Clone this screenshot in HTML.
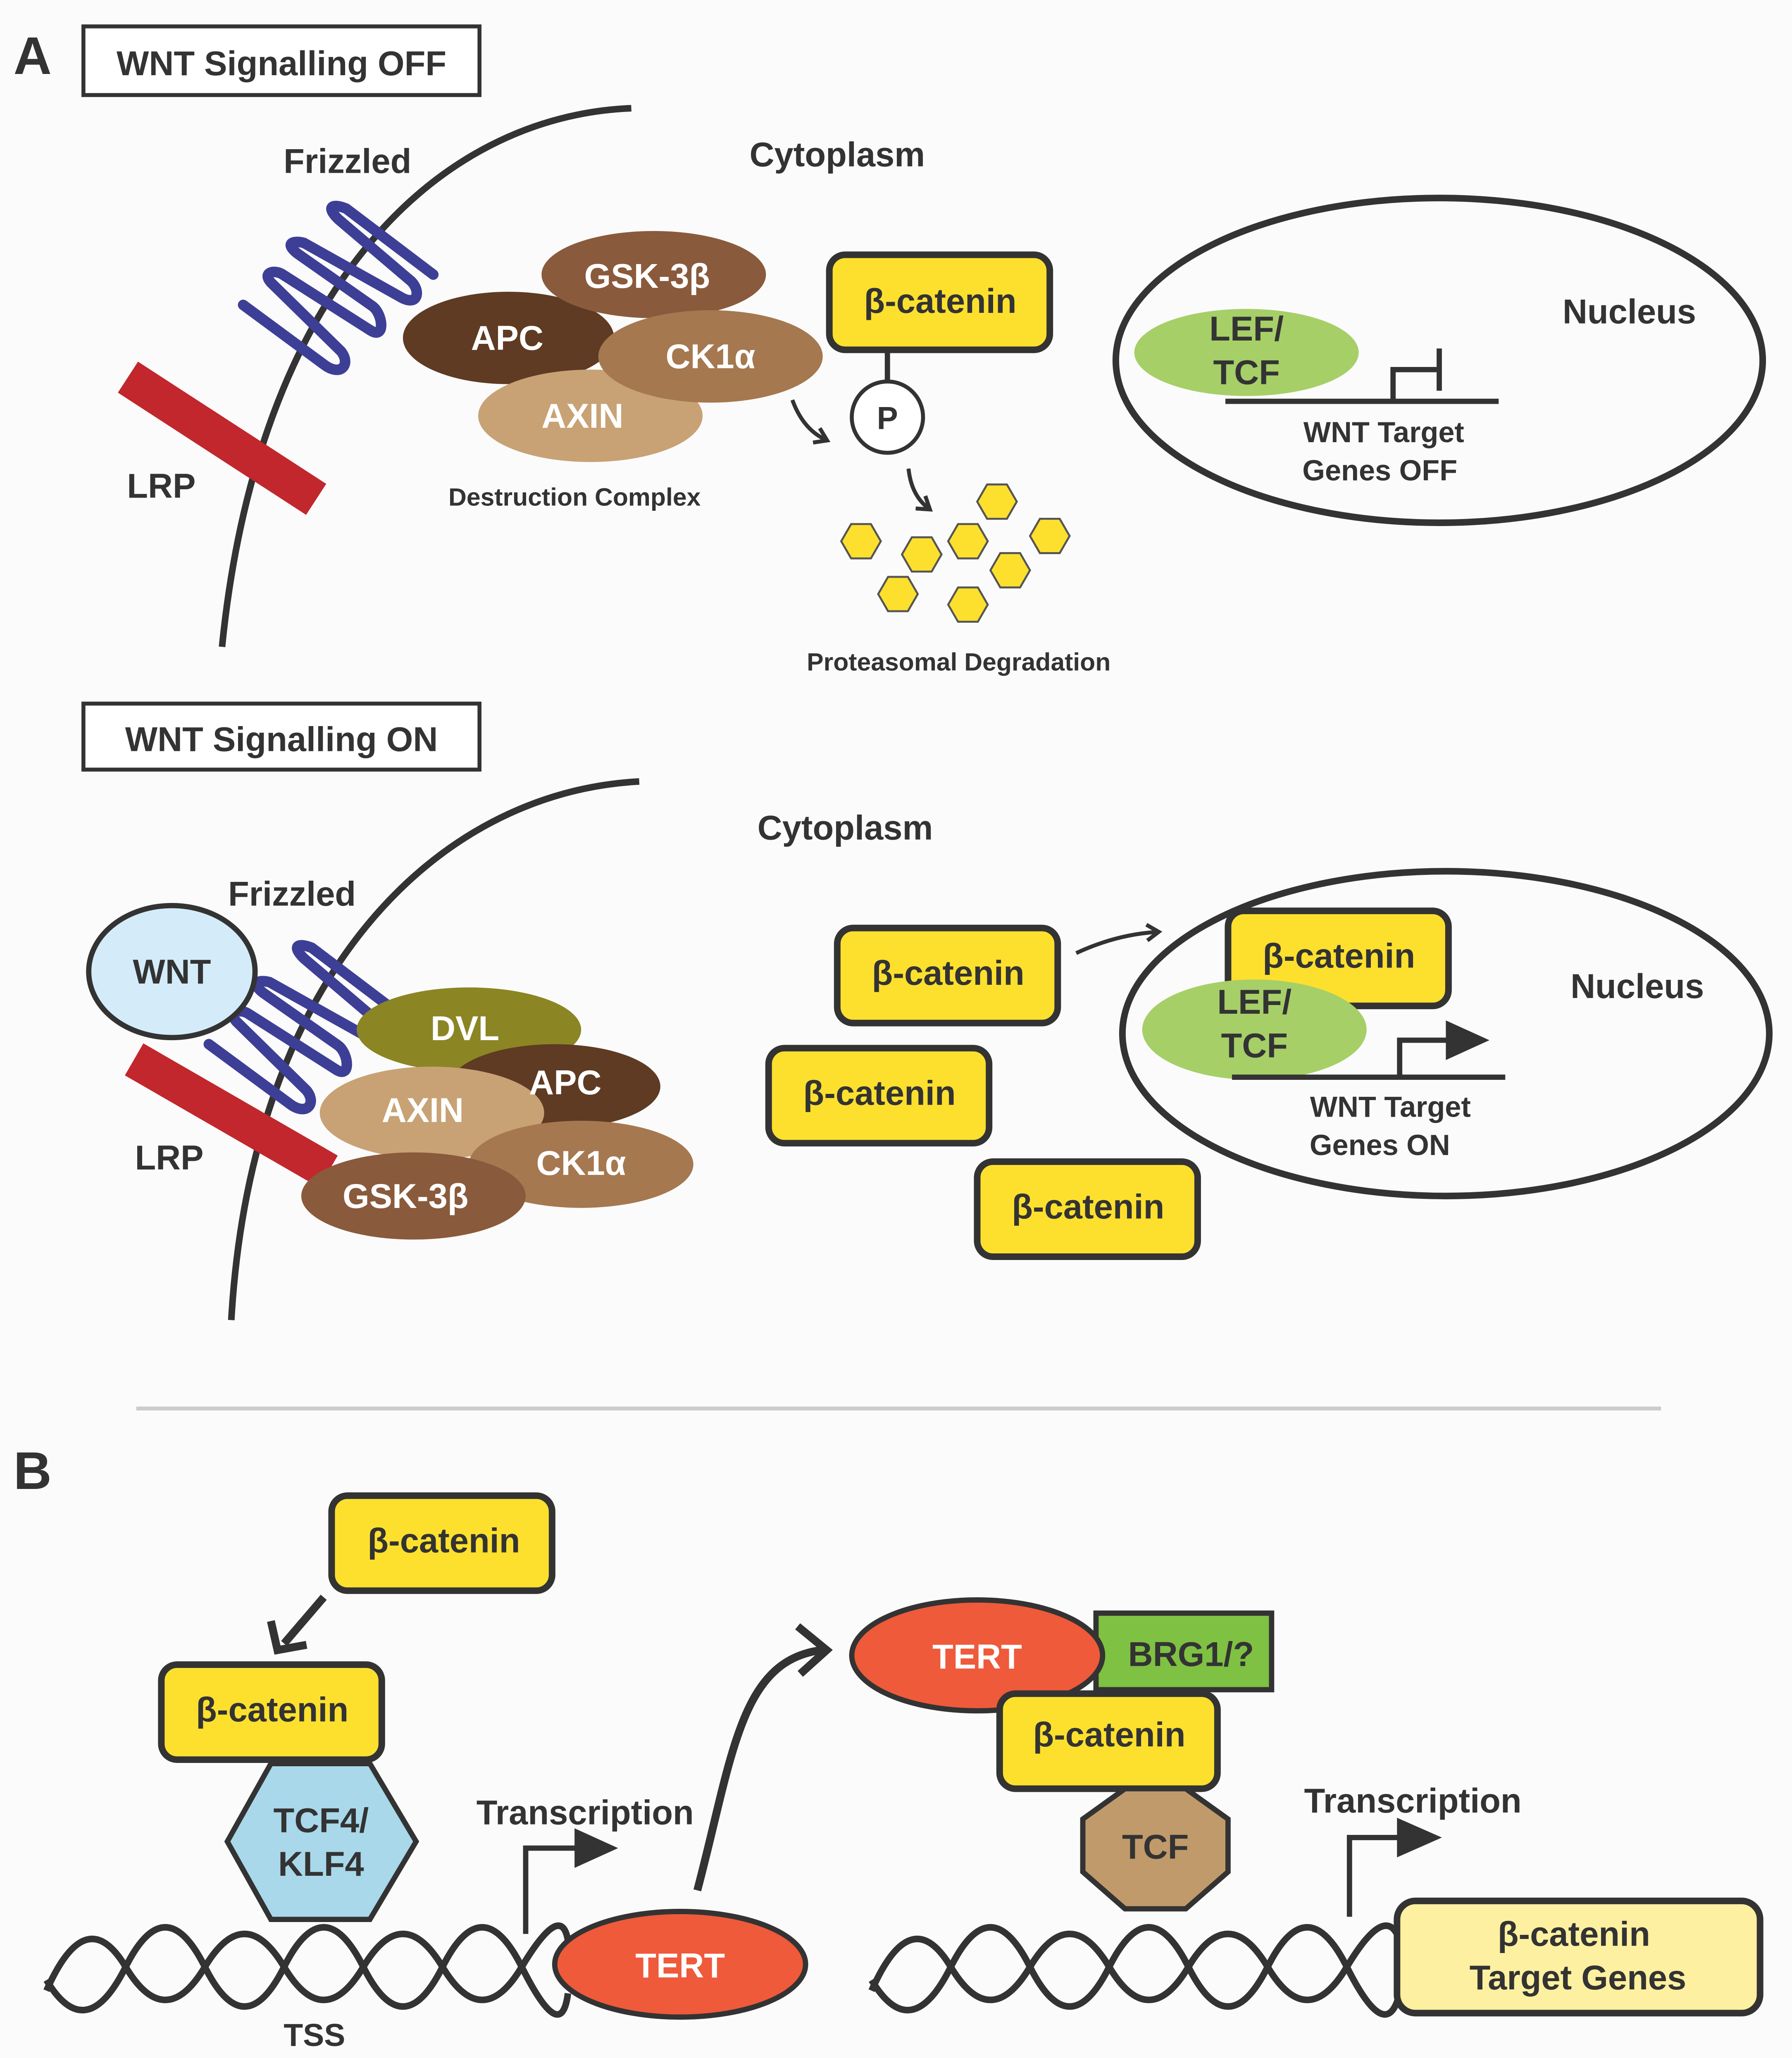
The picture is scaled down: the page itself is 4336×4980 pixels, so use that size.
<!DOCTYPE html>
<html><head><meta charset="utf-8"><style>
html,body{margin:0;padding:0;background:#fbfbfb}
svg{display:block}
text{font-family:"Liberation Sans",Arial,sans-serif;font-weight:bold;fill:#333}
</style></head><body>
<svg width="4336" height="4980" viewBox="0 0 1357 1559" xmlns="http://www.w3.org/2000/svg">
<defs>
<marker id="ah" viewBox="0 0 10 10" refX="6" refY="5" markerWidth="5" markerHeight="5" orient="auto"><path d="M1,1 L7,5 L1,9" fill="none" stroke="#333" stroke-width="2"/></marker>
<path id="coil" d="M184,231 L245,276 C258,286 266,276 258,266 L205,214 C198,206 208,204 214,208 L280,250 C292,258 290,238 282,232 L225,192 C215,184 222,182 230,184 L305,226 C318,232 318,218 310,212 L256,166 C246,156 252,154 262,158 L328,208" fill="none" stroke="#3d3f96" stroke-width="8" stroke-linecap="round" stroke-linejoin="round"/>
</defs>
<rect width="1357" height="1559" fill="#fbfbfb"/>

<!-- PANEL A OFF -->
<text x="10" y="56" font-size="40">A</text>
<rect x="63" y="20" width="300" height="52" fill="#fff" stroke="#333" stroke-width="3"/>
<text x="213" y="57" font-size="26" text-anchor="middle">WNT Signalling OFF</text>
<path d="M478,82 C330,88 195,220 168,490" fill="none" stroke="#333" stroke-width="5"/>
<rect x="83" y="318" width="170" height="28" fill="#c1272d" transform="rotate(33 168 332)"/>
<use href="#coil"/>
<text x="263" y="131" font-size="26" text-anchor="middle">Frizzled</text>
<text x="122" y="377" font-size="26" text-anchor="middle">LRP</text>
<text x="634" y="126" font-size="26" text-anchor="middle">Cytoplasm</text>

<ellipse cx="385" cy="256" rx="80" ry="35" fill="#5e3b22"/>
<ellipse cx="495" cy="208" rx="85" ry="33" fill="#8a5a3c"/>
<ellipse cx="447" cy="315" rx="85" ry="35" fill="#c8a275"/>
<ellipse cx="538" cy="270" rx="85" ry="35" fill="#a57850"/>
<text x="384" y="265" font-size="26" text-anchor="middle" style="fill:#fff">APC</text>
<text x="490" y="218" font-size="26" text-anchor="middle" style="fill:#fff">GSK-3β</text>
<text x="538" y="279" font-size="26" text-anchor="middle" style="fill:#fff">CK1α</text>
<text x="441" y="324" font-size="26" text-anchor="middle" style="fill:#fff">AXIN</text>
<text x="435" y="383" font-size="19" text-anchor="middle">Destruction Complex</text>

<rect x="628" y="193" width="167" height="72" rx="12" fill="#fde02e" stroke="#333" stroke-width="5"/>
<text x="712" y="237" font-size="26" text-anchor="middle">β-catenin</text>
<line x1="672" y1="265" x2="672" y2="290" stroke="#333" stroke-width="4"/>
<circle cx="672" cy="316" r="27" fill="#fff" stroke="#333" stroke-width="3"/>
<text x="672" y="325" font-size="24" text-anchor="middle">P</text>
<path d="M600,303 Q608,325 625,333" fill="none" stroke="#333" stroke-width="3" marker-end="url(#ah)"/>
<path d="M688,355 Q690,375 703,385" fill="none" stroke="#333" stroke-width="3" marker-end="url(#ah)"/>
<g fill="#fde02e" stroke="#555" stroke-width="1.5">
<polygon points="-15,0 -7.5,-13 7.5,-13 15,0 7.5,13 -7.5,13" transform="translate(652,410)"/>
<polygon points="-15,0 -7.5,-13 7.5,-13 15,0 7.5,13 -7.5,13" transform="translate(698,420)"/>
<polygon points="-15,0 -7.5,-13 7.5,-13 15,0 7.5,13 -7.5,13" transform="translate(733,410)"/>
<polygon points="-15,0 -7.5,-13 7.5,-13 15,0 7.5,13 -7.5,13" transform="translate(755,380)"/>
<polygon points="-15,0 -7.5,-13 7.5,-13 15,0 7.5,13 -7.5,13" transform="translate(795,406)"/>
<polygon points="-15,0 -7.5,-13 7.5,-13 15,0 7.5,13 -7.5,13" transform="translate(765,432)"/>
<polygon points="-15,0 -7.5,-13 7.5,-13 15,0 7.5,13 -7.5,13" transform="translate(680,450)"/>
<polygon points="-15,0 -7.5,-13 7.5,-13 15,0 7.5,13 -7.5,13" transform="translate(733,458)"/>
</g>
<text x="726" y="508" font-size="19" text-anchor="middle">Proteasomal Degradation</text>

<ellipse cx="1090" cy="273" rx="245" ry="123" fill="none" stroke="#333" stroke-width="5"/>
<ellipse cx="944" cy="267" rx="85" ry="33" fill="#a6cf68"/>
<text x="944" y="258" font-size="26" text-anchor="middle">LEF/</text>
<text x="944" y="291" font-size="26" text-anchor="middle">TCF</text>
<line x1="928" y1="304" x2="1135" y2="304" stroke="#333" stroke-width="4"/>
<path d="M1055,304 V280 H1090 M1090,264 V296" fill="none" stroke="#333" stroke-width="4"/>
<text x="1048" y="335" font-size="22" text-anchor="middle">WNT Target</text>
<text x="1045" y="364" font-size="22" text-anchor="middle">Genes OFF</text>
<text x="1234" y="245" font-size="26" text-anchor="middle">Nucleus</text>

<!-- PANEL A ON -->
<rect x="63" y="533" width="300" height="50" fill="#fff" stroke="#333" stroke-width="3"/>
<text x="213" y="569" font-size="26" text-anchor="middle">WNT Signalling ON</text>
<path d="M484,592 C330,600 190,740 175,1000" fill="none" stroke="#333" stroke-width="5"/>
<text x="640" y="636" font-size="26" text-anchor="middle">Cytoplasm</text>
<rect x="90" y="831" width="170" height="28" fill="#c1272d" transform="rotate(30 175 845)"/>
<use href="#coil" transform="translate(-26,560)"/>
<ellipse cx="130" cy="736" rx="63" ry="50" fill="#d4ecf9" stroke="#333" stroke-width="4"/>
<text x="130" y="745" font-size="26" text-anchor="middle">WNT</text>
<text x="221" y="686" font-size="26" text-anchor="middle">Frizzled</text>
<text x="128" y="886" font-size="26" text-anchor="middle">LRP</text>
<ellipse cx="355" cy="780" rx="85" ry="32" fill="#8b8524"/>
<ellipse cx="420" cy="823" rx="80" ry="32" fill="#5e3b22"/>
<ellipse cx="327" cy="843" rx="85" ry="35" fill="#c8a275"/>
<ellipse cx="440" cy="882" rx="85" ry="33" fill="#a57850"/>
<ellipse cx="313" cy="906" rx="85" ry="33" fill="#8a5a3c"/>
<text x="352" y="788" font-size="26" text-anchor="middle" style="fill:#fff">DVL</text>
<text x="428" y="829" font-size="26" text-anchor="middle" style="fill:#fff">APC</text>
<text x="320" y="850" font-size="26" text-anchor="middle" style="fill:#fff">AXIN</text>
<text x="440" y="890" font-size="26" text-anchor="middle" style="fill:#fff">CK1α</text>
<text x="307" y="915" font-size="26" text-anchor="middle" style="fill:#fff">GSK-3β</text>

<g fill="#fde02e" stroke="#333" stroke-width="5">
<rect x="634" y="703" width="167" height="72" rx="12"/>
<rect x="582" y="794" width="167" height="72" rx="12"/>
<rect x="740" y="880" width="167" height="72" rx="12"/>
</g>
<text x="718" y="746" font-size="26" text-anchor="middle">β-catenin</text>
<text x="666" y="837" font-size="26" text-anchor="middle">β-catenin</text>
<text x="824" y="923" font-size="26" text-anchor="middle">β-catenin</text>
<path d="M815,722 Q845,708 876,706" fill="none" stroke="#333" stroke-width="3" marker-end="url(#ah)"/>

<ellipse cx="1095" cy="783" rx="245" ry="123" fill="none" stroke="#333" stroke-width="5"/>
<rect x="930" y="690" width="167" height="72" rx="12" fill="#fde02e" stroke="#333" stroke-width="5"/>
<text x="1014" y="733" font-size="26" text-anchor="middle">β-catenin</text>
<ellipse cx="950" cy="780" rx="85" ry="38" fill="#a6cf68"/>
<text x="950" y="768" font-size="26" text-anchor="middle">LEF/</text>
<text x="950" y="801" font-size="26" text-anchor="middle">TCF</text>
<line x1="933" y1="816" x2="1140" y2="816" stroke="#333" stroke-width="4"/>
<path d="M1060,816 V788 H1097" fill="none" stroke="#333" stroke-width="4"/>
<polygon points="1095,773 1128,788 1095,803" fill="#333"/>
<text x="1053" y="846" font-size="22" text-anchor="middle">WNT Target</text>
<text x="1045" y="875" font-size="22" text-anchor="middle">Genes ON</text>
<text x="1240" y="756" font-size="26" text-anchor="middle">Nucleus</text>

<line x1="103" y1="1067" x2="1258" y2="1067" stroke="#ccc" stroke-width="3"/>

<!-- PANEL B -->
<text x="10" y="1128" font-size="40">B</text>
<rect x="251" y="1133" width="167" height="72" rx="12" fill="#fde02e" stroke="#333" stroke-width="5"/>
<text x="336" y="1176" font-size="26" text-anchor="middle">β-catenin</text>
<path d="M245,1210 L215,1245" fill="none" stroke="#333" stroke-width="6"/>
<path d="M205,1228 L210,1250 L232,1246" fill="none" stroke="#333" stroke-width="6"/>
<rect x="122" y="1261" width="167" height="72" rx="12" fill="#fde02e" stroke="#333" stroke-width="5"/>
<text x="206" y="1304" font-size="26" text-anchor="middle">β-catenin</text>
<polygon points="172,1395 205,1336 280,1336 315,1395 280,1454 205,1454" fill="#a8d8ea" stroke="#333" stroke-width="4"/>
<text x="243" y="1388" font-size="26" text-anchor="middle">TCF4/</text>
<text x="243" y="1421" font-size="26" text-anchor="middle">KLF4</text>

<g fill="none" stroke="#333" stroke-width="5">
<path d="M35,1508 Q65,1440 95,1490 T155,1490 T215,1490 T275,1490 T335,1490 T395,1490 T430,1470"/>
<path d="M35,1500 Q65,1550 95,1490 T155,1490 T215,1490 T275,1490 T335,1490 T395,1490 T430,1510"/>
<path d="M660,1508 Q690,1440 720,1490 T780,1490 T840,1490 T900,1490 T960,1490 T1020,1490 T1060,1470"/>
<path d="M660,1500 Q690,1550 720,1490 T780,1490 T840,1490 T900,1490 T960,1490 T1020,1490 T1060,1510"/>
</g>
<text x="238" y="1550" font-size="24" text-anchor="middle">TSS</text>
<path d="M398,1465 V1400 H437" fill="none" stroke="#333" stroke-width="4"/>
<polygon points="435,1385 468,1400 435,1415" fill="#333"/>
<text x="443" y="1382" font-size="26" text-anchor="middle">Transcription</text>
<ellipse cx="515" cy="1488" rx="95" ry="40" fill="#ee5a3a" stroke="#333" stroke-width="4"/>
<text x="515" y="1498" font-size="26" text-anchor="middle" style="fill:#fff">TERT</text>
<path d="M528,1432 C555,1330 560,1258 622,1250" fill="none" stroke="#333" stroke-width="6"/>
<path d="M604,1232 L626,1250 L606,1268" fill="none" stroke="#333" stroke-width="6"/>

<rect x="830" y="1222" width="133" height="58" fill="#7fc142" stroke="#333" stroke-width="4"/>
<text x="902" y="1262" font-size="26" text-anchor="middle">BRG1/?</text>
<ellipse cx="740" cy="1254" rx="95" ry="42" fill="#ee5a3a" stroke="#333" stroke-width="4"/>
<text x="740" y="1264" font-size="26" text-anchor="middle" style="fill:#fff">TERT</text>
<rect x="757" y="1283" width="165" height="72" rx="12" fill="#fde02e" stroke="#333" stroke-width="5"/>
<text x="840" y="1323" font-size="26" text-anchor="middle">β-catenin</text>
<polygon points="852,1355 898,1355 930,1378 930,1418 898,1446 852,1446 820,1418 820,1378" fill="#c19a6b" stroke="#333" stroke-width="4"/>
<text x="875" y="1408" font-size="26" text-anchor="middle">TCF</text>
<path d="M1022,1452 V1392 H1060" fill="none" stroke="#333" stroke-width="4"/>
<polygon points="1058,1377 1092,1392 1058,1407" fill="#333"/>
<text x="1070" y="1373" font-size="26" text-anchor="middle">Transcription</text>
<rect x="1058" y="1440" width="275" height="85" rx="14" fill="#fdf0a0" stroke="#333" stroke-width="5"/>
<text x="1192" y="1474" font-size="26" text-anchor="middle">β-catenin</text>
<text x="1195" y="1507" font-size="26" text-anchor="middle">Target Genes</text>
</svg>
</body></html>
